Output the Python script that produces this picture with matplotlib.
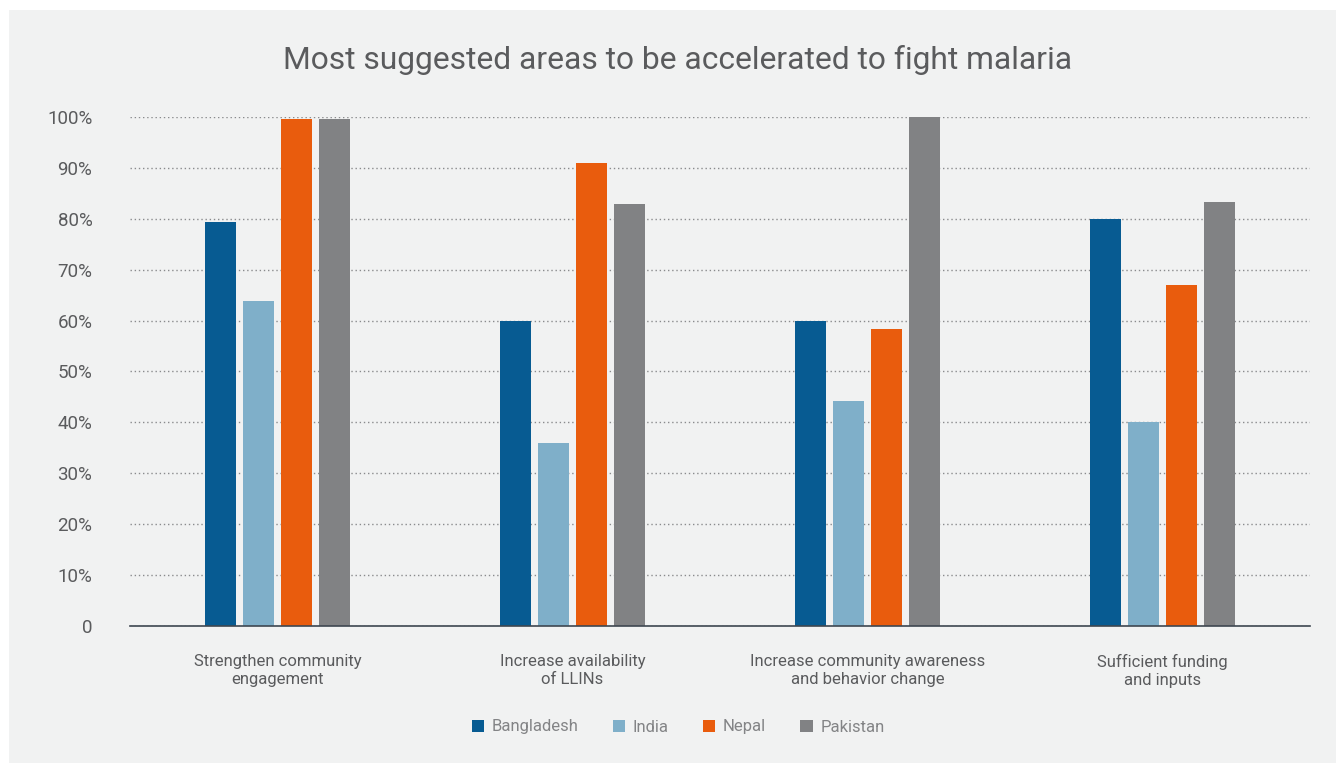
import matplotlib.pyplot as plt
import numpy as np
from matplotlib.patches import Rectangle

plt.rcParams["font.family"] = ["Roboto", "DejaVu Sans"]

categories = [
    "Strengthen community\nengagement",
    "Increase availability\nof LLINs",
    "Increase community awareness\nand behavior change",
    "Sufficient funding\nand inputs",
]
countries = ["Bangladesh", "India", "Nepal", "Pakistan"]
bangladesh = [79.3, 60.0, 60.0, 80.0]
india = [63.8, 36.0, 44.3, 40.0]
nepal = [99.6, 91.0, 58.3, 67.0]
pakistan = [99.6, 83.0, 100.0, 83.3]
ytick_values = [0, 10, 20, 30, 40, 50, 60, 70, 80, 90, 100]
ytick_labels = ["0", "10%", "20%", "30%", "40%", "50%", "60%", "70%", "80%", "90%", "100%"]

colors = ["#075b92", "#7fafc9", "#e95c0d", "#818284"]
text_color = "#5a5b5d"
panel_color = "#f1f2f2"

fig = plt.figure(figsize=(13.36, 7.63), dpi=100)
fig.patch.set_facecolor("white")
# light grey card behind everything
fig.patches.append(Rectangle((9 / 1336, 0), 1, 1 - 10 / 763, transform=fig.transFigure,
                             facecolor=panel_color, edgecolor="none", zorder=-10))

ax = fig.add_axes([130 / 1336, 1 - 626 / 763, 1180 / 1336, (626 - 117) / 763])
ax.set_facecolor("none")

x = np.arange(len(categories))
width = 0.105
step = 0.129
series = [bangladesh, india, nepal, pakistan]
for i, (name, vals) in enumerate(zip(countries, series)):
    ax.bar(x + (i - 1.5) * step, vals, width, color=colors[i], label=name, zorder=3)

ax.set_xlim(-0.5, len(categories) - 0.5)
ax.set_ylim(0, 100)
ax.set_yticks(ytick_values)
ax.set_yticklabels(ytick_labels)
ax.set_xticks(x)
ax.set_xticklabels(categories, fontsize=12, color=text_color, linespacing=1.25)

ax.tick_params(axis="y", length=0, pad=27, labelsize=13.5, labelcolor=text_color)
ax.tick_params(axis="x", length=0, pad=20)

ax.yaxis.grid(True, linestyle=(0, (1, 2)), color="#8a8b8d", linewidth=1.0, zorder=1)
ax.set_axisbelow(True)
for side in ["top", "right", "left"]:
    ax.spines[side].set_visible(False)
ax.spines["bottom"].set_color("#3e4751")
ax.spines["bottom"].set_linewidth(1.2)
ax.spines["bottom"].set_zorder(4)

fig.text(678 / 1336, 1 - 60 / 763, "Most suggested areas to be accelerated to fight malaria",
         ha="center", va="center", fontsize=22.9, color=text_color)

handles, labels = ax.get_legend_handles_labels()
fig.legend(handles, labels, loc="center", bbox_to_anchor=(678 / 1336, 1 - 727 / 763),
           ncol=4, frameon=False, fontsize=12, labelcolor="#838486",
           handlelength=0.75, handleheight=0.75, handletextpad=0.45, columnspacing=2.05)

fig.savefig("out.png", dpi=100)
